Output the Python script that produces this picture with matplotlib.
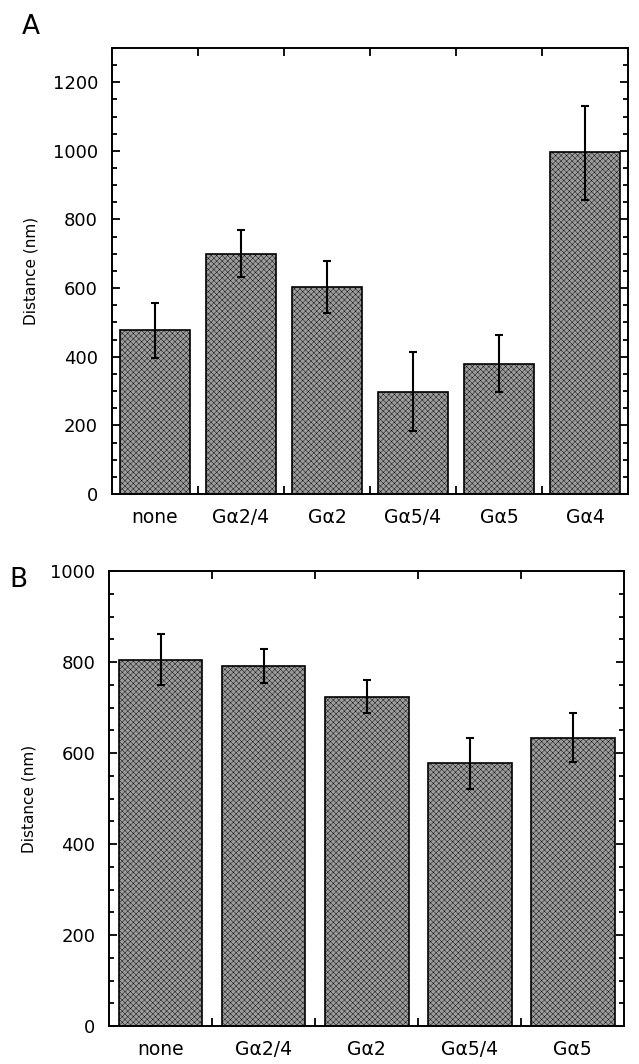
import numpy as np
import matplotlib
matplotlib.use("Agg")
import matplotlib.pyplot as plt
from matplotlib.ticker import MultipleLocator, FixedLocator

# Painel A
cats_a = ["none", "Gα2/4", "Gα2", "Gα5/4", "Gα5", "Gα4"]
dist_a = [478, 700, 604, 298, 380, 997]
err_lo_a = [395, 633, 528, 183, 297, 858]
err_hi_a = [558, 770, 679, 415, 462, 1130]

# Painel B
cats_b = ["none", "Gα2/4", "Gα2", "Gα5/4", "Gα5"]
dist_b = [804, 791, 724, 578, 634]
err_lo_b = [749, 754, 688, 520, 581]
err_hi_b = [861, 829, 760, 634, 688]

plt.rcParams["font.family"] = ["DejaVu Sans"]
plt.rcParams["hatch.color"] = "#838383"
plt.rcParams["hatch.linewidth"] = 0.3

fig = plt.figure(figsize=(6.39, 10.64), dpi=100)
ax_a = fig.add_axes([0.175, 0.5357, 0.808, 0.4193])
ax_b = fig.add_axes([0.171, 0.0357, 0.806, 0.4276])


def desenhar(ax, cats, vals, lo, hi, ymax):
    x = np.arange(1, len(cats) + 1)
    vals = np.array(vals)
    yerr = [vals - np.array(lo), np.array(hi) - vals]
    ax.bar(x, vals, width=0.81, color="#9c9c9c", edgecolor="black",
           linewidth=1.2, hatch="xxxxxx", zorder=2)
    ax.errorbar(x, vals, yerr=yerr, fmt="none", ecolor="black",
                elinewidth=1.5, capsize=3, capthick=1.5, zorder=3)
    ax.set_xlim(0.5, len(cats) + 0.5)
    ax.set_ylim(0, ymax)
    ax.set_xticks(x)
    ax.set_xticklabels(cats, fontsize=13.5)
    ax.xaxis.set_minor_locator(FixedLocator(x[:-1] + 0.5))
    ax.yaxis.set_major_locator(MultipleLocator(200))
    ax.yaxis.set_minor_locator(MultipleLocator(50))
    ax.tick_params(axis="x", which="major", length=0, pad=10)
    ax.tick_params(axis="x", which="minor", direction="in", length=6,
                   width=1.3, top=True, bottom=True)
    ax.tick_params(axis="y", which="major", direction="in", length=6,
                   width=1.3, left=True, right=True, labelsize=13, pad=10)
    ax.tick_params(axis="y", which="minor", direction="in", length=3.5,
                   width=1.3, left=True, right=True)
    for s in ax.spines.values():
        s.set_linewidth(1.4)
    ax.set_ylabel("Distance (nm)", fontsize=11, labelpad=10)


desenhar(ax_a, cats_a, dist_a, err_lo_a, err_hi_a, 1300)
desenhar(ax_b, cats_b, dist_b, err_lo_b, err_hi_b, 1000)

fig.text(0.034, 0.975, "A", fontsize=19, va="center")
fig.text(0.014, 0.455, "B", fontsize=19, va="center")

fig.savefig("out.png", dpi=100)
